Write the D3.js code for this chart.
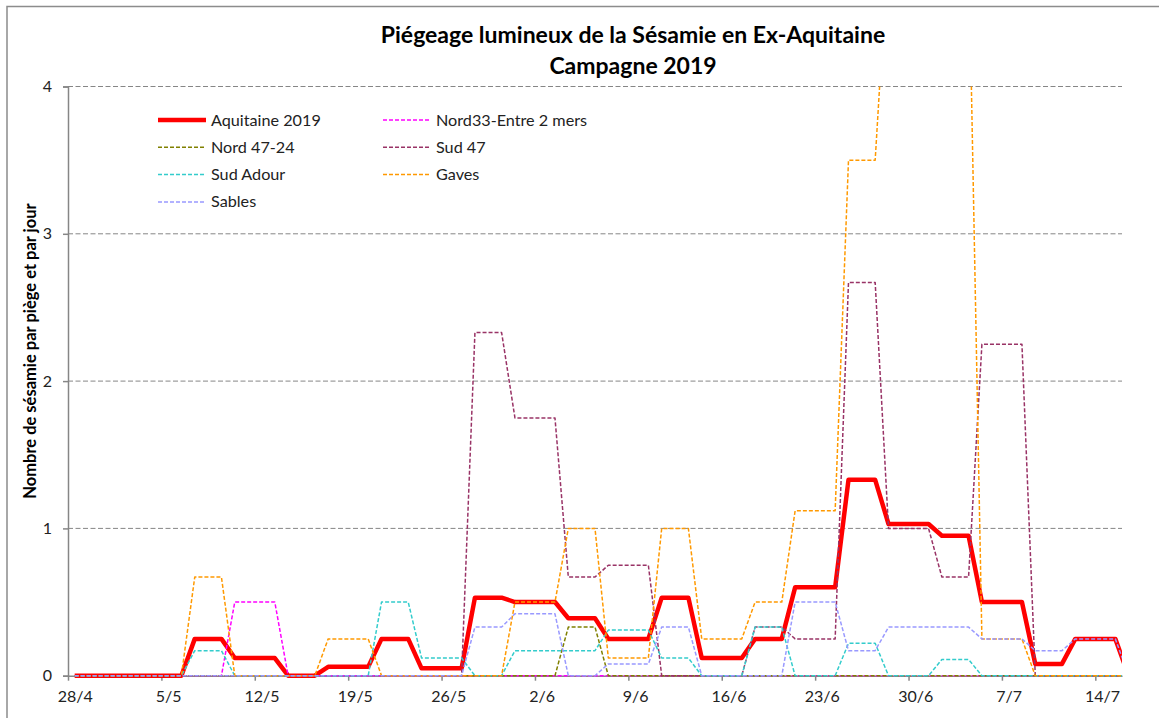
<!DOCTYPE html>
<html>
<head>
<meta charset="utf-8">
<script src="https://cdn.jsdelivr.net/npm/d3@7"></script>
<style>
  body { margin: 0; background: #fff; }
  svg { display: block; font-family: Lato, "Open Sans", sans-serif; }
</style>
</head>
<body>
<div id="graph"></div>
<script>
// one value per day, 28/4 -> 16/7 (last point sits just past the axis end)
const days = d3.utcDay.range(Date.UTC(2019, 3, 28), Date.UTC(2019, 6, 17));
const tickLabels = ["28/4", "5/5", "12/5", "19/5", "26/5", "2/6", "9/6", "16/6", "23/6", "30/6", "7/7", "14/7"];

const aquitaine = [0,0,0,0,0,0,0,0,0, 0.25,0.25,0.25, 0.12,0.12,0.12,0.12, 0,0,0,
  0.06,0.06,0.06,0.06, 0.25,0.25,0.25, 0.05,0.05,0.05,0.05, 0.53,0.53,0.53,
  0.5,0.5,0.5,0.5, 0.39,0.39,0.39, 0.25,0.25,0.25,0.25, 0.53,0.53,0.53,
  0.12,0.12,0.12,0.12, 0.25,0.25,0.25, 0.6,0.6,0.6,0.6, 1.33,1.33,1.33,
  1.03,1.03,1.03,1.03, 0.95,0.95,0.95, 0.5,0.5,0.5,0.5, 0.08,0.08,0.08,
  0.25,0.25,0.25,0.25, 0];
const nord33 = [0,0,0,0,0,0,0,0,0,0,0,0, 0.5,0.5,0.5,0.5,
  0,0,0,0,0,0,0,0,0,0,0,0,0,0,0,0,0,0,0,0,0,0,0,0,0,0,0,0,0,0,0,0,
  0,0,0,0,0,0,0,0,0,0,0,0,0,0,0,0,0,0,0,0,0,0,0,0,0,0,0,0,0,0,0,0];
const nord4724 = [0,0,0,0,0,0,0,0,0,0,0,0,0,0,0,0,0,0,0,0,0,0,0,0,0,0,0,0,0,0,0,0,0,0,0,0,0,
  0.33,0.33,0.33,
  0,0,0,0,0,0,0,0,0,0,0,0,0,0,0,0,0,0,0,0,0,0,0,0,0,0,0,0,0,0,0,0,0,0,0,0,0,0,0,0];
const sud47 = [0,0,0,0,0,0,0,0,0,0,0,0,0,0,0,0,0,0,0,0,0,0,0,0,0,0,0,0,0,0,
  2.33,2.33,2.33, 1.75,1.75,1.75,1.75, 0.67,0.67,0.67, 0.75,0.75,0.75,0.75,
  0,0,0,0,0,0,0, 0.33,0.33,0.33, 0.25,0.25,0.25,0.25, 2.67,2.67,2.67,
  1,1,1,1, 0.67,0.67,0.67, 2.25,2.25,2.25,2.25, 0,0,0,0,0,0,0,0];
const sudAdour = [0,0,0,0,0,0,0,0,0, 0.17,0.17,0.17, 0,0,0,0,0,0,0,0,0,0,0,
  0.5,0.5,0.5, 0.12,0.12,0.12,0.12, 0,0,0, 0.17,0.17,0.17,0.17,0.17,0.17,0.17,
  0.31,0.31,0.31,0.31, 0.12,0.12,0.12, 0,0,0,0, 0.33,0.33,0.33, 0,0,0,0,
  0.22,0.22,0.22, 0,0,0,0, 0.11,0.11,0.11, 0,0,0,0,0,0,0,0,0,0,0,0];
const gaves = [0,0,0,0,0,0,0,0,0, 0.67,0.67,0.67, 0,0,0,0,0,0,0, 0.25,0.25,0.25,0.25,
  0,0,0,0,0,0,0,0,0,0, 0.5,0.5,0.5,0.5, 1,1,1, 0.12,0.12,0.12,0.12, 1,1,1,
  0.25,0.25,0.25,0.25, 0.5,0.5,0.5, 1.12,1.12,1.12,1.12, 3.5,3.5,3.5,
  5,5,5,5,5,5,5, 0.25,0.25,0.25,0.25, 0,0,0,0,0,0,0,0];
const sables = [0,0,0,0,0,0,0,0,0,0,0,0,0,0,0,0,0,0,0,0,0,0,0,0,0,0,0,0,0,0,
  0.33,0.33,0.33, 0.42,0.42,0.42,0.42, 0,0,0, 0.08,0.08,0.08,0.08, 0.33,0.33,0.33,
  0,0,0,0,0,0,0, 0.5,0.5,0.5,0.5, 0.17,0.17,0.17, 0.33,0.33,0.33,0.33,0.33,0.33,0.33,
  0.25,0.25,0.25,0.25, 0.17,0.17,0.17, 0.25,0.25,0.25,0.25, 0];

const series = [
  { name: "Aquitaine 2019", values: aquitaine, color: "#ff0000", width: 4.5, dash: null },
  { name: "Nord33-Entre 2 mers", values: nord33, color: "#ff00ff", width: 1.5, dash: "4,2" },
  { name: "Nord 47-24", values: nord4724, color: "#808000", width: 1.5, dash: "4,2" },
  { name: "Sud 47", values: sud47, color: "#993366", width: 1.5, dash: "4,2" },
  { name: "Sud Adour", values: sudAdour, color: "#33cccc", width: 1.5, dash: "4,2" },
  { name: "Gaves", values: gaves, color: "#ff9900", width: 1.5, dash: "4,2" },
  { name: "Sables", values: sables, color: "#9999ff", width: 1.5, dash: "4,2" }
];

const W = 1159, H = 718;
const plotLeft = 68, plotRight = 1122, plotTop = 86.5, plotBottom = 675.7;
const halfDay = 12 * 3600 * 1000;

const svg = d3.select('#graph').append('svg')
    .attr('width', W)
    .attr('height', H);

// chart frame (right and bottom edges fall outside the picture)
svg.append('rect')
    .attr('x', 7).attr('y', 6.5)
    .attr('width', W + 20).attr('height', H + 20)
    .attr('fill', 'none')
    .attr('stroke', '#8c8c8c')
    .attr('stroke-width', 1.5);

const x = d3.scaleUtc()
    .domain([Date.UTC(2019, 3, 28), Date.UTC(2019, 6, 16)])
    .range([plotLeft, plotRight]);
const y = d3.scaleLinear().domain([0, 4]).range([plotBottom, plotTop]);

// horizontal gridlines
svg.append('g')
    .selectAll('line')
    .data([1, 2, 3, 4])
    .enter()
    .append('line')
    .attr('x1', plotLeft).attr('x2', plotRight)
    .attr('y1', d => y(d)).attr('y2', d => y(d))
    .attr('stroke', '#868686')
    .attr('stroke-width', 1)
    .attr('stroke-dasharray', '5,2.5');

// y axis
const yAxis = svg.append('g')
    .attr('transform', `translate(${plotLeft},0)`)
    .call(d3.axisLeft(y).tickValues([0, 1, 2, 3, 4]).tickFormat(d3.format('d')).tickSize(5).tickPadding(11));
yAxis.select('.domain').attr('stroke', '#868686').attr('stroke-width', 1.5);
yAxis.selectAll('.tick line').attr('stroke', '#868686').attr('stroke-width', 1.5);
yAxis.selectAll('.tick text').attr('font-size', 16).attr('fill', '#222').attr('font-family', 'Lato');

// x axis: ticks every 7 days, labels centred on the day
const weekTicks = d3.range(tickLabels.length).map(k => d3.utcDay.offset(new Date(Date.UTC(2019, 3, 28)), k * 7));
const xAxis = svg.append('g')
    .attr('transform', `translate(0,${plotBottom})`)
    .call(d3.axisBottom(x).tickValues(weekTicks).tickFormat((d, i) => tickLabels[i]).tickSize(5).tickSizeOuter(0).tickPadding(10));
xAxis.select('.domain').attr('stroke', '#868686').attr('stroke-width', 1.5);
xAxis.selectAll('.tick line').attr('stroke', '#868686').attr('stroke-width', 1.5);
xAxis.selectAll('.tick text')
    .attr('x', x(halfDay + Date.UTC(2019, 3, 28)) - plotLeft)
    .attr('font-size', 16).attr('fill', '#222').attr('font-family', 'Lato');

// lines, clipped to the plot area
svg.append('clipPath').attr('id', 'plot')
    .append('rect')
    .attr('x', plotLeft).attr('y', plotTop)
    .attr('width', plotRight - plotLeft).attr('height', plotBottom - plotTop + 3);

const line = d3.line()
    .x((d, i) => x(days[i].getTime() + halfDay))
    .y(d => y(d));

svg.append('g')
    .attr('clip-path', 'url(#plot)')
    .selectAll('path')
    .data(series)
    .enter()
    .append('path')
    .attr('d', d => line(d.values))
    .attr('fill', 'none')
    .attr('stroke', d => d.color)
    .attr('stroke-width', d => d.width)
    .attr('stroke-dasharray', d => d.dash)
    .attr('stroke-linejoin', 'round');

// legend, two columns
const legend = svg.append('g')
    .selectAll('g')
    .data(series)
    .enter()
    .append('g')
    .attr('transform', (d, i) => `translate(${i % 2 ? 383 : 158},${120 + Math.floor(i / 2) * 27.3})`);
legend.append('line')
    .attr('x1', 0).attr('x2', 48)
    .attr('stroke', d => d.color)
    .attr('stroke-width', d => d.width)
    .attr('stroke-dasharray', d => d.dash);
legend.append('text')
    .attr('x', 53).attr('y', 5.5)
    .attr('font-size', 16.2)
    .attr('fill', '#222')
    .text(d => d.name);

// titles
svg.append('text')
    .attr('x', 633).attr('y', 43)
    .attr('text-anchor', 'middle')
    .attr('font-size', 23).attr('font-weight', 'bold')
    .text('Piégeage lumineux de la Sésamie en Ex-Aquitaine');
svg.append('text')
    .attr('x', 633).attr('y', 74)
    .attr('text-anchor', 'middle')
    .attr('font-size', 23).attr('font-weight', 'bold')
    .text('Campagne 2019');

svg.append('text')
    .attr('transform', 'translate(36,351) rotate(-90)')
    .attr('text-anchor', 'middle')
    .attr('font-size', 16.5).attr('font-weight', 'bold')
    .text('Nombre de sésamie par piège et par jour');
</script>
</body>
</html>
